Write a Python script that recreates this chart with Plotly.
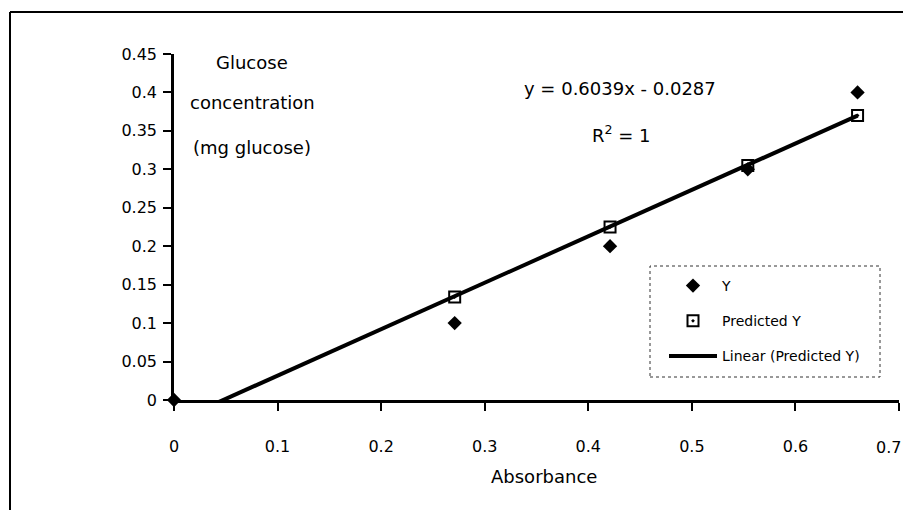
"""
Glucose standard curve — absorbance vs glucose concentration, with linear fit.
"""

import plotly.graph_objects as go

# =====================================================================
# Data
# =====================================================================

absorbance = [0.0, 0.271, 0.421, 0.554, 0.660]
glucose_y = [0.0, 0.10, 0.20, 0.30, 0.40]
predicted_y = [-0.0287, 0.134, 0.225, 0.305, 0.370]

trend_x = [0.0, 0.660]
trend_y = [-0.0287, 0.3699]

x_ticks = [0, 0.1, 0.2, 0.3, 0.4, 0.5, 0.6, 0.7]
x_tick_labels = ["0", "0.1", "0.2", "0.3", "0.4", "0.5", "0.6", "0.7"]
y_ticks = [0, 0.05, 0.1, 0.15, 0.2, 0.25, 0.3, 0.35, 0.4, 0.45]
y_tick_labels = ["0", "0.05", "0.1", "0.15", "0.2", "0.25", "0.3", "0.35", "0.4", "0.45"]

FONT = "DejaVu Sans"

# The page body has an 8px margin, so the figure is drawn smaller and
# all reference pixel positions are shifted by OFF.
OFF = 8
W, H = 911 - OFF, 518 - 2 * OFF
# plot area in reference pixels: x 174..899, y 54..400
L, T = 174 - OFF, 54 - OFF
PW, PH = 725, 346
R, B = W - L - PW, H - T - PH


def px(x):
    return (x - OFF - L) / PW


def py(y):
    return (T + PH - (y - OFF)) / PH


fig = go.Figure()

fig.add_trace(go.Scatter(
    x=absorbance, y=glucose_y, name="Y", mode="markers",
    marker=dict(symbol="diamond", size=11, color="black"),
    cliponaxis=False, legendgroup="a",
))
fig.add_trace(go.Scatter(
    x=absorbance, y=predicted_y, name="Predicted Y", mode="markers",
    marker=dict(symbol="square-open-dot", size=11, color="black",
                line=dict(width=2, color="black")),
    legendgroup="b",
))
fig.add_trace(go.Scatter(
    x=trend_x, y=trend_y, name="Linear (Predicted Y)", mode="lines",
    line=dict(color="black", width=4),
    legendgroup="c",
))

axis_common = dict(
    showgrid=False, zeroline=False, tickcolor="black", tickwidth=2, ticklen=8,
    tickfont=dict(family=FONT, size=16, color="black"), automargin=False,
)

# the last x label sits at the very right edge of the page; it is drawn
# right-aligned as an annotation so it is not cut off
axis_tick_text = x_tick_labels[:-1] + [""]

fig.update_layout(
    width=W, height=H,
    margin=dict(l=L, r=R, t=T, b=B, autoexpand=False),
    paper_bgcolor="white", plot_bgcolor="white",
    font=dict(family=FONT, color="black"),
    xaxis=dict(
        range=[0, 0.7], tickvals=x_ticks, ticktext=axis_tick_text,
        ticks="outside", showline=True, linecolor="black", linewidth=2.5,
        ticklabelstandoff=22, **axis_common,
    ),
    yaxis=dict(
        range=[0, 0.45], tickvals=y_ticks, ticktext=y_tick_labels,
        ticks="outside", showline=True, linecolor="black", linewidth=2.5,
        ticklabelstandoff=3, **axis_common,
    ),
    # second set of axes with inside ticks -> "cross" tick marks
    xaxis2=dict(
        overlaying="x", anchor="y", side="bottom", range=[0, 0.7],
        tickvals=x_ticks, ticks="inside", showticklabels=False, **axis_common,
    ),
    yaxis2=dict(
        overlaying="y", anchor="x", side="left", range=[0, 0.45],
        tickvals=y_ticks, ticks="inside", showticklabels=False, **axis_common,
    ),
    legend=dict(
        x=px(664), y=py(270), xanchor="left", yanchor="top",
        bgcolor="rgba(0,0,0,0)", borderwidth=0, itemwidth=48,
        font=dict(family=FONT, size=14, color="black"),
        traceorder="grouped", tracegroupgap=14,
    ),
    showlegend=True,
)

ann_font = dict(family=FONT, size=18, color="black")
for text, x, y in [
    ("Glucose", 252, 62),
    ("concentration", 252, 102),
    ("(mg glucose)", 252, 147),
    ("y = 0.6039x - 0.0287", 620, 88),
    ("R<sup>2</sup> = 1", 621, 134),
    ("Absorbance", 544, 477),
]:
    fig.add_annotation(
        text=text, x=px(x), y=py(y), xref="paper", yref="paper",
        showarrow=False, xanchor="center", yanchor="middle", font=ann_font,
    )

fig.add_annotation(
    text=x_tick_labels[-1], x=px(903), y=py(447), xref="paper", yref="paper",
    showarrow=False, xanchor="right", yanchor="middle",
    font=dict(family=FONT, size=16, color="black"),
)

# legend box (dotted) and chart-area frame (top + left edges of the scan)
fig.add_shape(type="rect", xref="paper", yref="paper",
              x0=px(650), x1=px(880), y0=py(377), y1=py(266),
              line=dict(color="#333", width=1, dash="dot"))
fig.add_shape(type="line", xref="paper", yref="paper",
              x0=px(10), x1=px(911), y0=py(12), y1=py(12),
              line=dict(color="black", width=2))
fig.add_shape(type="line", xref="paper", yref="paper",
              x0=px(10), x1=px(10), y0=py(12), y1=py(518),
              line=dict(color="black", width=2))

fig.write_html("out.html")
